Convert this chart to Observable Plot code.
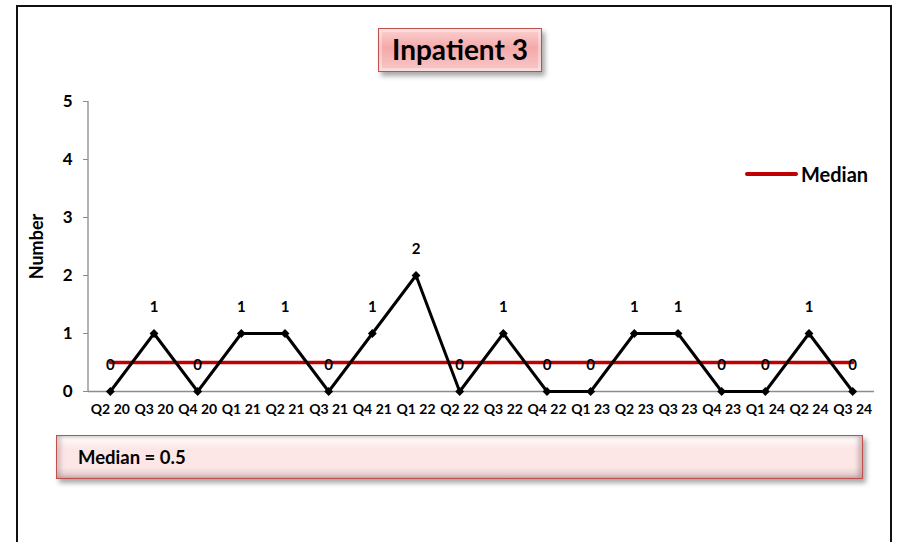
<!DOCTYPE html>
<html>
<head>
<meta charset="utf-8">
<script src="https://cdn.jsdelivr.net/npm/d3@7"></script>
<script src="https://cdn.jsdelivr.net/npm/@observablehq/plot@0.6"></script>
<style>
  html, body { margin: 0; padding: 0; background: #fff; }
  #wrap { position: relative; width: 910px; height: 542px; overflow: hidden; font-family: Lato, "Open Sans", sans-serif; }
  #frame { position: absolute; left: 16px; top: 5px; width: 876px; height: 560px; border: 2px solid #111; box-sizing: border-box; }
  #chart { position: absolute; left: 0; top: 0; }
  .box { position: absolute; box-sizing: border-box; border: 1.5px solid #c0504d; box-shadow: 3px 4px 5px rgba(0,0,0,0.35); font-weight: 700; color: #000; }
  #title { left: 378px; top: 28px; width: 164px; height: 44px; background: linear-gradient(#fbd0d0, #f4a9a9 45%, #f9c8c8 100%);
           box-shadow: inset 0 0 0 3px rgba(255,255,255,0.35), 3px 4px 5px rgba(0,0,0,0.35);
           font-size: 28px; text-align: center; line-height: 41px; white-space: nowrap; }
  #medbox { left: 56px; top: 435px; width: 807px; height: 44px;
            background: linear-gradient(#ffffff, #fde6e6 30%, #fde6e6 75%, #d9c4c4 100%);
            box-shadow: inset 4px 0 4px rgba(150,120,120,0.35), inset -4px 0 4px rgba(150,120,120,0.45), 3px 4px 5px rgba(0,0,0,0.35);
            font-size: 18.5px; line-height: 42px; padding-left: 21px; }
  #legend { position: absolute; left: 745px; top: 162px; font-weight: 700; font-size: 20px; display: flex; align-items: center; }
  #legend span.sw { display: inline-block; width: 53px; height: 3.5px; background: #c00000; margin-right: 3px; border-radius: 2px; }
</style>
</head>
<body>
<div id="wrap">
  <div id="frame"></div>
  <div id="chart"></div>
  <div class="box" id="title">Inpatient 3</div>
  <div class="box" id="medbox">Median = 0.5</div>
  <div id="legend"><span class="sw"></span>Median</div>
</div>
<script>
const quarters = ["Q2 20","Q3 20","Q4 20","Q1 21","Q2 21","Q3 21","Q4 21","Q1 22","Q2 22","Q3 22","Q4 22","Q1 23","Q2 23","Q3 23","Q4 23","Q1 24","Q2 24","Q3 24"];
const values = [0,1,0,1,1,0,1,2,0,1,0,0,1,1,0,0,1,0];
const medianValue = 0.5;
const yTicks = [0,1,2,3,4,5];

const data = quarters.map((q, i) => ({q, v: values[i], m: medianValue}));

const chart = Plot.plot({
  width: 910,
  height: 420,
  marginLeft: 88,
  marginRight: 36,
  marginTop: 101,
  marginBottom: 29,
  style: { fontFamily: "Lato, 'Open Sans', sans-serif", background: "transparent", overflow: "visible" },
  x: { type: "point", domain: quarters, padding: 0.5, round: false, label: null },
  y: { domain: [0, 5], ticks: yTicks, label: null, tickFormat: "d" },
  marks: [
    Plot.ruleY([0], { stroke: "#8c8c8c", strokeWidth: 1.3 }),
    Plot.axisX({ tickSize: 0, tickPadding: 13, fontSize: 14, fontWeight: "bold", fill: "#000" }),
    Plot.axisY({ ticks: yTicks, tickFormat: "d", tickSize: 5, tickPadding: 11, fontSize: 17, fontWeight: "bold", stroke: "#8c8c8c", fill: "#000" }),
    Plot.text(["Number"], { frameAnchor: "left", textAnchor: "middle", dx: -51, rotate: -90, fontSize: 18, fontWeight: "bold", fill: "#000" }),
    Plot.line(data, { x: "q", y: "m", stroke: "#c00000", strokeWidth: 3.5 }),
    Plot.line(data, { x: "q", y: "v", stroke: "#000", strokeWidth: 3 }),
    Plot.dot(data, { x: "q", y: "v", symbol: "diamond2", r: 4, fill: "#000", stroke: "none" }),
    Plot.text(data, { x: "q", y: "v", text: d => String(d.v), dy: -26, fontSize: 15, fontWeight: "bold", fill: "#000" })
  ]
});
// draw the y axis line
const svg = d3.select(chart);
svg.append("line").attr("x1", 88).attr("x2", 88).attr("y1", 101).attr("y2", 391)
  .attr("stroke", "#8c8c8c").attr("stroke-width", 1.3);
document.getElementById("chart").appendChild(chart);
</script>
</body>
</html>
